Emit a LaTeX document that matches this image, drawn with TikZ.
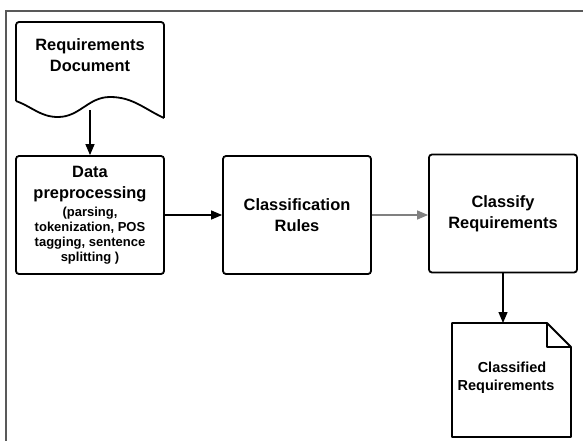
\documentclass[tikz,border=0pt]{standalone}
\usepackage{fontspec}
\setmainfont{Liberation Sans}
\usepackage{tikz}
\usetikzlibrary{arrows.meta,positioning}

\tikzset{
    box/.style={draw, line width=1.8pt, rounded corners=3pt, minimum width=148pt,
        minimum height=118pt, align=center, font=\bfseries\fontsize{16.4}{21}\selectfont},
    doctext/.style={align=center, font=\bfseries\fontsize{16.4}{21}\selectfont},
    docline/.style={line width=1.8pt, line join=round},
    flow/.style={line width=1.3pt, -{Triangle[length=11pt,width=9pt]}},
    frame/.style={draw=black!65, line width=1.5pt}
}

\begin{document}
\begin{tikzpicture}[x=1pt,y=-1pt]
    \useasboundingbox (0,0) rectangle (583,441);
    \draw[frame] (6,441) -- (6,11) -- (583,11);

    \draw[docline, rounded corners=3pt] (16,101) -- (16,22) -- (164,22) -- (164,118);
    \draw[docline] (16,101) to[out=-20,in=180] (58,117) to[out=0,in=180] (110,97)
        to[out=0,in=155] (164,118);
    \node[doctext] (reqdoc) at (90,55) {Requirements\\Document};
    \coordinate (reqwave) at (90,110);

    \node[box] (prep) at (90,215) {Data\\preprocessing\\[-3pt]
        {\fontsize{13}{15}\selectfont (parsing,}\\[-6pt]
        {\fontsize{13}{15}\selectfont tokenization, POS}\\[-6pt]
        {\fontsize{13}{15}\selectfont tagging, sentence}\\[-6pt]
        {\fontsize{13}{15}\selectfont splitting )}};
    \node[box] (rules) at (297,215) {Classification\\Rules};
    \node[box] (classify) at (503,213.5) {Classify\\Requirements};

    \draw[docline] (452,323) -- (547,323) -- (571,347) -- (571,437) -- (452,437) -- cycle;
    \draw[docline] (547,323) -- (547,347) -- (571,347);
    \node[doctext, font=\bfseries\fontsize{14.5}{18}\selectfont] (outdoc) at (506,378)
        {\hspace{12pt}Classified\\Requirements};
    \coordinate (outtop) at (503,323);

    \draw[flow] (reqwave) -- (prep);
    \draw[flow] (prep) -- (rules);
    \draw[flow, draw=black!50, fill=black!50] (rules) -- (rules -| classify.west);
    \draw[flow] (classify) -- (outtop);
\end{tikzpicture}
\end{document}
